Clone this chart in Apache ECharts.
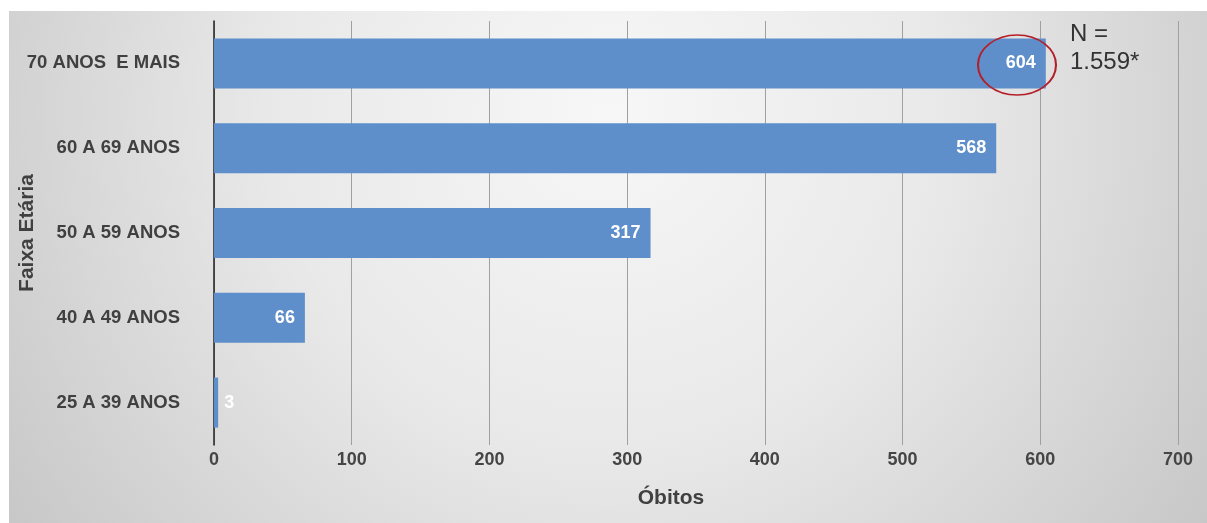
<!DOCTYPE html>
<html><head><meta charset="utf-8">
<script src="https://cdn.jsdelivr.net/npm/echarts@6/dist/echarts.min.js"></script>
<style>html,body{margin:0;padding:0;background:#fff}#c{width:1207px;height:523px}</style>
</head><body><div id="c"></div>
<script>
const categories = ['25 A 39 ANOS', '40 A 49 ANOS', '50 A 59 ANOS', '60 A 69 ANOS', '70 ANOS  E MAIS'];
const values = [3, 66, 317, 568, 604];
const xTicks = [0, 100, 200, 300, 400, 500, 600, 700];
const totalLabel = 'N =\n1.559*';

const FONT = '"Liberation Sans", Arial, sans-serif';
const chart = echarts.init(document.getElementById('c'));
chart.setOption({
  animation: false,
  graphic: [
    { type: 'rect', z: -10, silent: true, shape: { x: 9, y: 11, width: 1198, height: 512 },
      style: { fill: { type: 'radial', x: 0.5, y: 0.2, r: 1.45, global: false,
        colorStops: [{ offset: 0, color: '#f7f7f7' }, { offset: 0.45, color: '#e9e9e9' }, { offset: 1, color: '#c6c6c6' }] } } },
    { type: 'circle', z: 100, shape: { cx: 0, cy: 0, r: 30 }, x: 1017, y: 65, scaleX: 1.3, scaleY: 1,
      style: { fill: 'none', stroke: '#b3202a', lineWidth: 1.6 } },
    { type: 'text', z: 100, x: 1070, y: 20,
      style: { text: totalLabel, font: '24px ' + FONT, fill: '#333', lineHeight: 28 } }
  ],
  grid: { left: 214, right: 29, top: 21, bottom: 78, containLabel: false, outerBoundsMode: 'none' },
  xAxis: {
    type: 'value', min: 0, max: 700, interval: 100,
    name: 'Óbitos', nameLocation: 'middle', nameGap: 43, nameMoveOverlap: false,
    nameTextStyle: { fontFamily: FONT, fontWeight: 'bold', fontSize: 21, color: '#404040', padding: [0, 50, 0, 0] },
    axisLine: { show: false }, axisTick: { show: false },
    splitLine: { show: true, lineStyle: { color: '#a0a0a0', width: 1 } },
    axisLabel: { margin: 6, fontFamily: FONT, fontWeight: 'bold', fontSize: 18, color: '#454545',
      formatter: v => xTicks.includes(v) ? String(v) : '' }
  },
  yAxis: {
    type: 'category', data: categories,
    name: 'Faixa Etária', nameLocation: 'middle', nameGap: 176, nameRotate: 90, nameMoveOverlap: false,
    nameTextStyle: { fontFamily: FONT, fontWeight: 'bold', fontSize: 21, color: '#404040' },
    axisLine: { show: true, lineStyle: { color: '#222', width: 1.5 } },
    axisTick: { show: false },
    axisLabel: { margin: 34, fontFamily: FONT, fontWeight: 'bold', fontSize: 18.5, color: '#404040' }
  },
  series: [{
    type: 'bar', barCategoryGap: '41%',
    data: values.map((v, i) => i === 0
      ? { value: v, label: { position: 'right', distance: 6 } }
      : v),
    itemStyle: { color: '#5f8fca' },
    label: { show: true, position: 'insideRight', distance: 10, color: '#fff',
      fontFamily: FONT, fontWeight: 'bold', fontSize: 18 }
  }]
});
</script></body></html>
